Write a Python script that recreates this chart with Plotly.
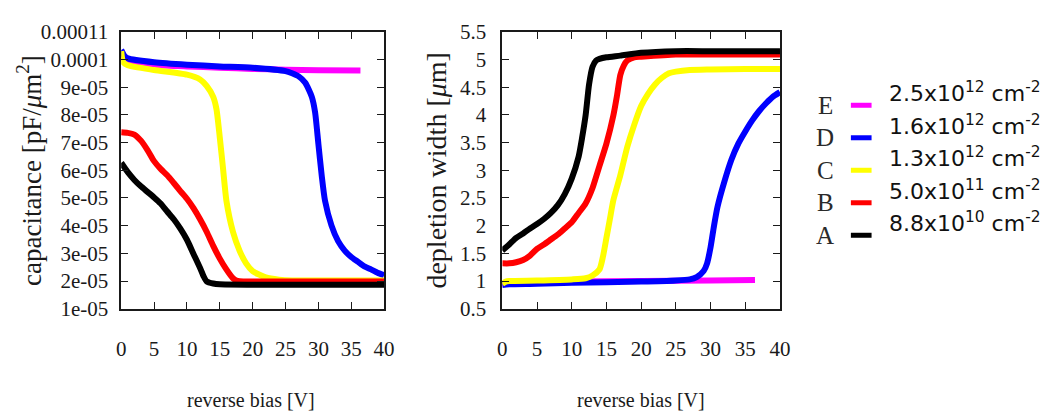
import plotly.graph_objects as go

# ---- capacitance vs reverse bias (pF/um^2) ----
cap_A_v = [0, 1, 2, 3, 4, 5, 6, 7, 8, 9, 10, 11, 12, 12.5, 13, 14, 15, 20, 25, 30, 35, 40]
cap_A = [6.27e-5, 5.93e-5, 5.65e-5, 5.42e-5, 5.22e-5, 5.02e-5, 4.80e-5, 4.51e-5, 4.23e-5, 3.89e-5,
         3.49e-5, 2.98e-5, 2.47e-5, 2.19e-5, 1.99e-5, 1.91e-5, 1.88e-5, 1.87e-5, 1.87e-5, 1.87e-5,
         1.87e-5, 1.87e-5]

cap_B_v = [0, 1, 2, 3, 4, 5, 6, 7, 8, 9, 10, 11, 12, 13, 14, 15, 16, 17, 17.5, 18, 20, 25, 30, 35, 40]
cap_B = [7.37e-5, 7.35e-5, 7.29e-5, 7.07e-5, 6.73e-5, 6.33e-5, 6.05e-5, 5.82e-5, 5.54e-5, 5.25e-5,
         4.97e-5, 4.63e-5, 4.23e-5, 3.78e-5, 3.27e-5, 2.81e-5, 2.42e-5, 2.10e-5, 2.02e-5, 1.99e-5,
         1.98e-5, 1.98e-5, 1.98e-5, 1.98e-5, 1.98e-5]

cap_C_v = [0, 0.3, 1, 5, 10, 12, 13, 14, 14.5, 15, 15.5, 16, 17, 18, 19, 20, 22, 24, 26, 30, 35, 40]
cap_C = [10.3e-5, 9.9e-5, 9.79e-5, 9.62e-5, 9.45e-5, 9.28e-5, 9.05e-5, 8.65e-5, 8.2e-5, 7.18e-5,
         6.05e-5, 4.91e-5, 3.78e-5, 3.10e-5, 2.64e-5, 2.36e-5, 2.13e-5, 2.05e-5, 2.02e-5, 2.02e-5,
         2.02e-5, 2.02e-5]

cap_D_v = [0, 0.5, 1, 5, 10, 15, 20, 25, 26, 27, 28, 29, 29.5, 30, 30.5, 31, 32, 33, 34, 35, 36, 37,
           38, 39, 40]
cap_D = [10.35e-5, 10.13e-5, 10.04e-5, 9.90e-5, 9.81e-5, 9.75e-5, 9.70e-5, 9.58e-5, 9.50e-5, 9.39e-5,
         9.16e-5, 8.65e-5, 8.09e-5, 6.95e-5, 5.82e-5, 4.91e-5, 4.00e-5, 3.44e-5, 3.10e-5, 2.87e-5,
         2.70e-5, 2.53e-5, 2.42e-5, 2.30e-5, 2.21e-5]

cap_E_v = [0, 0.5, 1, 5, 10, 15, 20, 25, 30, 36.4]
cap_E = [10.3e-5, 10.0e-5, 9.9e-5, 9.8e-5, 9.75e-5, 9.7e-5, 9.66e-5, 9.63e-5, 9.61e-5, 9.6e-5]

# ---- depletion width vs reverse bias (um) ----
dep_A_v = [0, 1, 2, 3, 4, 5, 6, 7, 8, 9, 10, 11, 11.5, 12, 12.5, 13, 13.5, 14, 15, 17, 20, 25, 30,
           35, 40]
dep_A = [1.55, 1.66, 1.78, 1.86, 1.95, 2.03, 2.12, 2.23, 2.37, 2.57, 2.85, 3.25, 3.59, 3.99, 4.55,
         4.87, 4.98, 5.01, 5.04, 5.07, 5.12, 5.15, 5.15, 5.15, 5.15]

dep_B_v = [0, 1, 2, 3, 4, 5, 6, 7, 8, 9, 10, 11, 12, 13, 14, 15, 16, 16.5, 17, 17.5, 18, 19, 20, 25,
           30, 35, 40]
dep_B = [1.32, 1.32, 1.34, 1.38, 1.46, 1.58, 1.66, 1.75, 1.84, 1.95, 2.06, 2.23, 2.40, 2.68, 3.08,
         3.48, 3.99, 4.33, 4.72, 4.89, 4.98, 5.04, 5.05, 5.09, 5.09, 5.09, 5.09]

dep_C_v = [0, 0.5, 1, 5, 10, 12, 13, 14, 14.5, 15, 15.5, 16, 17, 18, 19, 20, 21, 22, 23, 24, 25, 27,
           30, 35, 40]
dep_C = [0.95, 0.99, 1.0, 1.01, 1.03, 1.05, 1.10, 1.21, 1.44, 1.78, 2.12, 2.46, 2.91, 3.42, 3.82,
         4.16, 4.38, 4.55, 4.67, 4.75, 4.78, 4.81, 4.82, 4.83, 4.83]

dep_D_v = [0, 1, 5, 10, 20, 25, 27, 28, 29, 29.5, 30, 30.5, 31, 32, 33, 34, 35, 36, 37, 38, 39, 40]
dep_D = [0.93, 0.94, 0.95, 0.97, 0.99, 1.01, 1.03, 1.07, 1.18, 1.32, 1.61, 2.0, 2.34, 2.8, 3.19,
         3.48, 3.70, 3.90, 4.07, 4.21, 4.33, 4.41]

dep_E_v = [0, 5, 10, 20, 30, 36.4]
dep_E = [0.95, 0.98, 0.99, 1.0, 1.01, 1.02]

# ---- series labels ----
series_letters = ["E", "D", "C", "B", "A"]
series_doses = ["2.5x10<sup>12</sup> cm<sup>-2</sup>", "1.6x10<sup>12</sup> cm<sup>-2</sup>",
                "1.3x10<sup>12</sup> cm<sup>-2</sup>", "5.0x10<sup>11</sup> cm<sup>-2</sup>",
                "8.8x10<sup>10</sup> cm<sup>-2</sup>"]
series_colors = ["#ff00ff", "#0000ff", "#ffff00", "#ff0000", "#000000"]

# ---- axis ticks ----
x_ticks = [0, 5, 10, 15, 20, 25, 30, 35, 40]
cap_ticks = [1e-5, 2e-5, 3e-5, 4e-5, 5e-5, 6e-5, 7e-5, 8e-5, 9e-5, 1e-4, 1.1e-4]
cap_tick_text = ["1e-05", "2e-05", "3e-05", "4e-05", "5e-05", "6e-05", "7e-05", "8e-05", "9e-05",
                 "0.0001", "0.00011"]
dep_ticks = [0.5, 1, 1.5, 2, 2.5, 3, 3.5, 4, 4.5, 5, 5.5]
dep_tick_text = ["0.5", "1", "1.5", "2", "2.5", "3", "3.5", "4", "4.5", "5", "5.5"]

W, H = 1048, 414
SERIF = "Liberation Serif, Times New Roman, serif"
SANS = "DejaVu Sans, Verdana, sans-serif"
INK = "#1a1a1a"

cap_series = [(cap_E_v, cap_E), (cap_D_v, cap_D), (cap_C_v, cap_C), (cap_B_v, cap_B), (cap_A_v, cap_A)]
dep_series = [(dep_E_v, dep_E), (dep_D_v, dep_D), (dep_C_v, dep_C), (dep_B_v, dep_B), (dep_A_v, dep_A)]

fig = go.Figure()
for (vx, vy), col in zip(cap_series, series_colors):
    fig.add_trace(go.Scatter(x=vx, y=vy, mode="lines", xaxis="x", yaxis="y", showlegend=False,
                             line=dict(color=col, width=6, shape="spline", smoothing=0.6)))
for (vx, vy), col in zip(dep_series, series_colors):
    fig.add_trace(go.Scatter(x=vx, y=vy, mode="lines", xaxis="x2", yaxis="y2", showlegend=False,
                             line=dict(color=col, width=6, shape="spline", smoothing=0.6)))


def px_x(p):
    return p / W


def px_y(p):
    return 1 - p / H


left_dom = [px_x(118), px_x(385)]
right_dom = [px_x(505), px_x(787)]
y_dom = [px_y(315), px_y(21)]

axis_common = dict(showline=True, linecolor=INK, linewidth=1.5, mirror="ticks", ticks="inside",
                   ticklen=7, tickwidth=1.3, tickcolor=INK, showgrid=False, zeroline=False,
                   tickfont=dict(family=SERIF, size=21, color=INK))

fig.update_layout(
    width=W, height=H, margin=dict(l=0, r=0, t=0, b=0),
    paper_bgcolor="white", plot_bgcolor="white",
    xaxis=dict(domain=left_dom, range=[0, 40], tickvals=x_ticks, anchor="y",
               ticklabelstandoff=20, **axis_common),
    yaxis=dict(domain=y_dom, range=[1e-5, 1.1e-4], tickvals=cap_ticks, ticktext=cap_tick_text,
               anchor="x", ticklabelstandoff=7, **axis_common),
    xaxis2=dict(domain=right_dom, range=[0, 40], tickvals=x_ticks, anchor="y2",
                ticklabelstandoff=20, **axis_common),
    yaxis2=dict(domain=y_dom, range=[0.5, 5.5], tickvals=dep_ticks, ticktext=dep_tick_text,
                anchor="x2", ticklabelstandoff=10, **axis_common),
)

annotations = [
    dict(text="reverse bias [V]", x=px_x(250), y=px_y(412), size=20, angle=0),
    dict(text="reverse bias [V]", x=px_x(646), y=px_y(412), size=20, angle=0),
    dict(text="capacitance [pF/<i>μ</i>m<sup>2</sup>]", x=px_x(25), y=px_y(168), size=27, angle=-90),
    dict(text="depletion width [<i>μ</i>m]", x=px_x(438), y=px_y(168), size=28, angle=-90),
]
for a in annotations:
    fig.add_annotation(xref="paper", yref="paper", showarrow=False, xanchor="center",
                       yanchor="middle", text=a["text"], x=a["x"], y=a["y"], textangle=a["angle"],
                       font=dict(family=SERIF, size=a["size"], color=INK))

# legend: letter, colour swatch, dose
row_y = [99, 133.5, 168, 202.5, 237]
for letter, dose, col, ry in zip(series_letters, series_doses, series_colors, row_y):
    fig.add_annotation(xref="paper", yref="paper", showarrow=False, x=px_x(833), y=px_y(ry),
                       xanchor="center", yanchor="middle", text=letter,
                       font=dict(family=SERIF, size=25, color="#2a2a2a"))
    fig.add_shape(type="line", xref="paper", yref="paper", x0=px_x(859), x1=px_x(880),
                  y0=px_y(ry), y1=px_y(ry), line=dict(color=col, width=5))
    fig.add_annotation(xref="paper", yref="paper", showarrow=False, x=px_x(896), y=px_y(ry - 14),
                       xanchor="left", yanchor="middle", text=dose,
                       font=dict(family=SANS, size=22, color="#111111"))

fig.write_html("out.html")
